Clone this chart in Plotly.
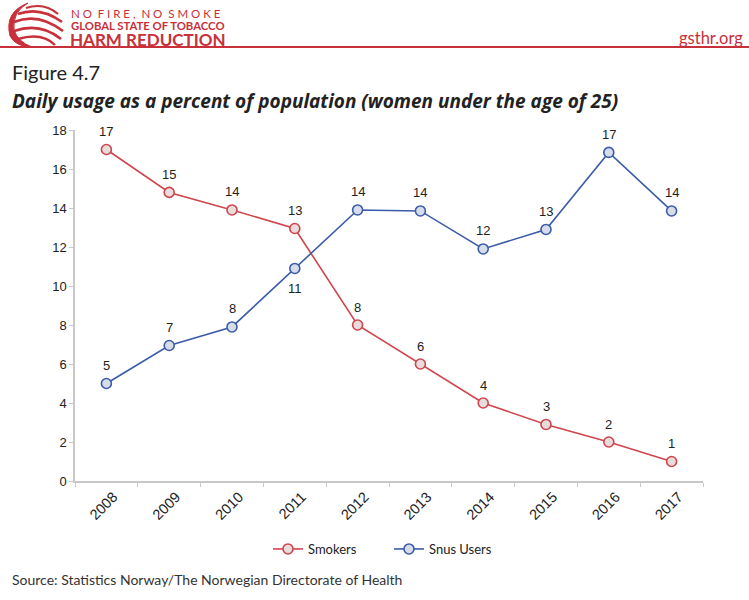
import plotly.graph_objects as go

years = ["2008", "2009", "2010", "2011", "2012", "2013", "2014", "2015", "2016", "2017"]
smokers = [17, 14.8, 13.9, 12.95, 8, 6, 4, 2.9, 2, 1]
snus = [5, 6.95, 7.9, 10.9, 13.9, 13.85, 11.9, 12.9, 16.85, 13.85]
y_ticks = [0, 2, 4, 6, 8, 10, 12, 14, 16, 18]

W, H = 749, 600
L, R, T, B = 75, 46, 130, 119
PW, PH = W - L - R, H - T - B

def px(x):
    return (x - L) / PW

def py(y):
    return (H - B - y) / PH

RED = "#d0454c"
BLUE = "#3b5ca8"
BRAND = "#c8303a"
LABEL_FONT = dict(family="Liberation Sans, Arial", size=13, color="#222")

fig = go.Figure()
fig.add_trace(go.Scatter(
    x=years, y=smokers, name="Smokers", mode="lines+markers",
    line=dict(color=RED, width=1.6),
    marker=dict(symbol="circle", size=10, color="#e9dcdc", line=dict(color=RED, width=1.6)),
))
fig.add_trace(go.Scatter(
    x=years, y=snus, name="Snus Users", mode="lines+markers",
    line=dict(color=BLUE, width=1.6),
    marker=dict(symbol="circle", size=10, color="#d6dcea", line=dict(color=BLUE, width=1.6)),
))

# data labels (category index on the x axis)
for i, v in enumerate(smokers):
    fig.add_annotation(x=i, y=v, text=f"{round(v)}", showarrow=False, yshift=18, font=LABEL_FONT)
snus_below = ["2011"]
for i, (yr, v) in enumerate(zip(years, snus)):
    fig.add_annotation(x=i, y=v, text=f"{round(v)}", showarrow=False,
                       yshift=-20 if yr in snus_below else 18, font=LABEL_FONT)

fig.update_layout(
    width=W, height=H,
    margin=dict(l=L, r=R, t=T, b=B, autoexpand=False),
    paper_bgcolor="white", plot_bgcolor="white",
    showlegend=True,
    legend=dict(orientation="h", x=0.5, xanchor="center", y=py(549), yanchor="middle",
                font=dict(family="Lato", size=13, color="#222"), itemwidth=30,
                tracegroupgap=0, entrywidth=76),
    xaxis=dict(type="category", tickson="boundaries", showgrid=False, showline=True,
               range=[-0.5, len(years) - 0.5],
               linecolor="#c8c8c8", linewidth=1.5, ticks="outside", ticklen=4, tickcolor="#c8c8c8",
               tickangle=-45, ticklabelshift=7,
               tickfont=dict(family="Liberation Sans, Arial", size=14.5, color="#222"), zeroline=False),
    yaxis=dict(range=[0, 18], tickvals=y_ticks, showgrid=False, showline=True,
               linecolor="#c8c8c8", linewidth=1.5, ticks="outside", ticklen=4, tickcolor="#c8c8c8",
               tickfont=LABEL_FONT, zeroline=False),
)

# header line
fig.add_shape(type="line", xref="paper", yref="paper", x0=px(0), x1=px(W), y0=py(47), y1=py(47),
              line=dict(color=BRAND, width=2))

# simple globe logo made of arcs
fig.add_shape(type="path", xref="paper", yref="paper",
              path=(f"M {px(28)},{py(3)} Q {px(4)},{py(12)} {px(10)},{py(36)} "
                    f"Q {px(16)},{py(47)} {px(32)},{py(47)} "
                    f"Q {px(18)},{py(42)} {px(14)},{py(30)} "
                    f"Q {px(12)},{py(12)} {px(28)},{py(3)} Z"),
              line=dict(color=BRAND, width=1), fillcolor=BRAND)
arcs = [
    (26, 8, 44, 2, 58, 14, 2.2),
    (18, 14, 40, 6, 62, 22, 2.6),
    (14, 22, 38, 12, 63, 31, 2.8),
    (14, 31, 40, 22, 61, 39, 2.8),
    (18, 39, 42, 32, 55, 45, 2.4),
]
for (x0, y0, cx, cy, x1, y1, w) in arcs:
    path = f"M {px(x0)},{py(y0)} Q {px(cx)},{py(cy)} {px(x1)},{py(y1)}"
    fig.add_shape(type="path", xref="paper", yref="paper", path=path,
                  line=dict(color=BRAND, width=w))

def txt(x, y, s, size, color="#222", family="Lato", xanchor="left", yanchor="middle"):
    fig.add_annotation(x=px(x), y=py(y), xref="paper", yref="paper", text=s, showarrow=False,
                       xanchor=xanchor, yanchor=yanchor, font=dict(family=family, size=size, color=color))

txt(69, 13.5, "N O &#160;F I R E , &#160;N O &#160;S M O K E", 11.5, BRAND)
txt(69, 25.5, "<b>GLOBAL STATE OF TOBACCO</b>", 11.3, BRAND)
txt(68, 39.5, "<b>HARM REDUCTION</b>", 17, BRAND)
txt(745, 38, "gsthr.org", 16.5, BRAND, xanchor="right")
txt(10, 72, "Figure 4.7", 20, "#222")
txt(10, 101, "<b><i>Daily usage as a percent of population (women under the age of 25)</i></b>", 19, "#222",
    family="Open Sans")
txt(10, 579, "Source: Statistics Norway/The Norwegian Directorate of Health", 14, "#333")

fig.write_html("out.html", config={"displayModeBar": False},
               post_script="document.body.style.margin='0';")
